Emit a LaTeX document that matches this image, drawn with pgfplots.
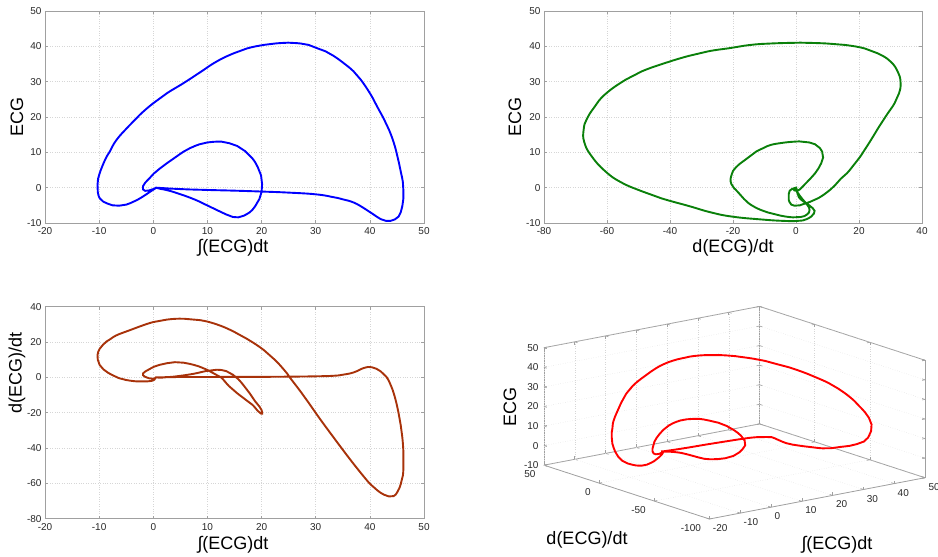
\documentclass[border=0pt]{standalone}
\usepackage{pgfplots}
\pgfplotsset{compat=1.18}
\usepackage{pgfplotstable}
\usepackage{fontspec}
\setmainfont{Liberation Sans}

\definecolor{mblue}{RGB}{0,0,255}
\definecolor{mgreen}{RGB}{10,128,10}
\definecolor{mbrown}{RGB}{168,50,10}
\definecolor{mred}{RGB}{255,0,0}
\definecolor{axgray}{RGB}{160,160,160}
\definecolor{tickgray}{RGB}{40,40,40}

\pgfplotstableread{
I E D
0.5 0 0
0.0 -0.4 -0.8
-0.8 -0.8 -0.5
-1.5 -0.9 0.3
-1.9 -0.5 1.2
-1.9 0.4 2.2
-1.5 1.4 3.3
-0.8 2.5 4.5
0.1 4.0 6.0
1.2 5.4 7.1
2.5 6.9 8.0
4.0 8.5 8.6
5.6 10.2 8.3
6.8 11.2 7.6
8.6 12.3 6.0
10.0 12.8 4.2
11.3 13.0 2.0
12.5 13.05 0
14.0 12.6 -5.0
15.5 11.8 -9.0
17.0 10.3 -12.5
18.3 8.3 -15.5
19.3 5.8 -19.0
19.9 3.5 -20.5
20.1 1.0 -20.5
20.0 -1.2 -18.5
19.6 -3.2 -16.5
18.8 -5.3 -13.5
17.8 -7.0 -9.0
16.8 -7.9 -5.0
15.7 -8.4 -1.0
14.7 -8.3 1.5
13.5 -7.6 3.5
11.7 -6.3 4.3
9.8 -4.9 3.6
7.4 -3.2 2.0
4.3 -1.5 0.6
2.5 -0.7 0.1
1.2 -0.3 -0.2
0.5 0 0
0.2 -0.4 -1.3
-0.3 -0.85 -2.0
-1.2 -1.8 -2.3
-1.9 -2.5 -2.3
-3.0 -3.5 -2.3
-3.7 -4.0 -2.1
-5.0 -4.8 -1.5
-6.3 -5.1 -0.5
-7.5 -5.0 1.2
-8.3 -4.6 2.5
-9.2 -4.0 4.5
-9.9 -3.0 7.0
-10.25 -1.2 10.0
-10.3 0.8 12.5
-10.2 2.5 14.2
-9.9 4.1 16.2
-9.3 6.5 18.4
-8.6 8.8 20.4
-8.0 10.3 21.5
-6.8 13.5 23.8
-4.6 17.3 26.4
-2.5 20.6 28.8
0 23.9 31.3
2.5 26.7 32.7
5.6 29.6 33.2
8.6 32.6 32.4
11.7 35.7 30.0
14.8 38.0 26.0
17.3 39.4 21.8
20.4 40.4 15.5
22.5 40.8 9.8
24.5 41.0 3.0
25.3 41.0 -0.4
27.2 40.8 -8.0
28.7 40.4 -14.4
30.2 39.5 -21.0
31.8 38.6 -27.8
33.3 37.3 -34.0
35.2 35.2 -41.8
37.0 32.9 -49.0
38.3 30.6 -54.0
40.1 26.5 -60.5
41.4 22.8 -64.0
42.6 19.4 -66.4
43.5 16.5 -67.4
44.4 12.8 -67.2
45.1 8.8 -64.8
45.7 4.6 -60.5
46.1 1.5 -55.5
46.2 -1.0 -49.0
46.2 -3.0 -42.8
46.0 -5.2 -34.0
45.7 -7.0 -27.0
45.3 -8.2 -20.2
44.6 -9.0 -11.0
43.8 -9.4 -4.0
43.0 -9.4 0.5
42.0 -8.9 3.4
40.4 -7.3 5.7
38.9 -5.8 5.3
37.0 -4.2 2.8
35.0 -3.3 1.5
33.3 -2.7 0.9
30.1 -1.9 0.6
25.0 -1.4 0.4
20.0 -1.1 0.3
15.0 -0.85 0.3
10.0 -0.65 0.2
5.0 -0.4 0.2
0.5 0 0
}\ecg

\pgfplotsset{
  mstyle/.style={
    scale only axis,
    axis line style={draw=axgray, line width=0.8pt},
    tick style={draw=axgray, line width=0.6pt},
    tick align=inside,
    major tick length=3pt,
    grid=major,
    grid style={dotted, black!16, line width=0.45pt},
    tick label style={font=\fontsize{10}{12}\selectfont, text=tickgray},
    label style={font=\fontsize{18}{21}\selectfont},
    /pgf/number format/assume math mode=true,
  },
  curve/.style={line width=1.9pt, smooth, tension=0.8},
}

\begin{document}
\begin{tikzpicture}
\useasboundingbox (0,0) rectangle (938pt,557pt);

% panel 1
\begin{axis}[mstyle, at={(45pt,334pt)}, anchor=south west,
  width=379pt, height=212pt,
  xmin=-20, xmax=50, ymin=-10, ymax=50,
  xtick={-20,-10,...,50}, ytick={-10,0,...,50},
  xticklabel style={yshift=-1pt},
  xlabel={∫(ECG)dt}, ylabel={ECG},
  xlabel style={at={(axis description cs:0.496,-0.118)}, anchor=center},
  ylabel style={at={(axis description cs:-0.074,0.5)}, anchor=center}]
\addplot[curve, mblue] table[x=I, y=E] {\ecg};
\end{axis}

% panel 2
\begin{axis}[mstyle, at={(544pt,334pt)}, anchor=south west,
  width=378pt, height=212pt,
  xmin=-80, xmax=40, ymin=-10, ymax=50,
  xtick={-80,-60,...,40}, ytick={-10,0,...,50},
  xticklabel style={yshift=-1pt},
  xlabel={d(ECG)/dt}, ylabel={ECG},
  xlabel style={at={(axis description cs:0.5,-0.118)}, anchor=center},
  ylabel style={at={(axis description cs:-0.077,0.5)}, anchor=center}]
\addplot[curve, mgreen] table[x=D, y=E] {\ecg};
\end{axis}

% panel 3
\begin{axis}[mstyle, at={(45pt,38.3pt)}, anchor=south west,
  width=379pt, height=212pt,
  xmin=-20, xmax=50, ymin=-80, ymax=40,
  xtick={-20,-10,...,50}, ytick={-80,-60,...,40},
  xticklabel style={yshift=-1pt},
  xlabel={∫(ECG)dt}, ylabel={d(ECG)/dt},
  xlabel style={at={(axis description cs:0.496,-0.125)}, anchor=center},
  ylabel style={at={(axis description cs:-0.074,0.687)}, anchor=center}]
\addplot[curve, mbrown] table[x=I, y=D] {\ecg};
\end{axis}

% panel 4 (3D)
\begin{axis}[mstyle, at={(544pt,38pt)}, anchor=south west,
  width=381pt, height=212.6pt,
  scale mode=stretch to fill, plot box ratio=1 1 1,
  view={-37.5}{30},
  xmin=-20, xmax=50, ymin=-100, ymax=50, zmin=-10, zmax=50,
  xtick={-20,-10,...,50}, ytick={-100,-50,0,50}, ztick={-10,0,...,50},
  xticklabel style={anchor=north west, xshift=0pt, yshift=-2pt},
  yticklabel style={anchor=north east, xshift=-5pt, yshift=-2pt},
  zticklabel style={anchor=east, xshift=-2pt}]
\addplot3[curve, mred] table[x=I, y=D, z=E] {\ecg};
\end{axis}
\node[font=\fontsize{18}{21}\selectfont] at (587pt,17pt) {d(ECG)/dt};
\node[font=\fontsize{18}{21}\selectfont] at (837pt,12pt) {∫(ECG)dt};
\node[font=\fontsize{18}{21}\selectfont, rotate=90] at (510pt,150pt) {ECG};
\end{tikzpicture}
\end{document}
